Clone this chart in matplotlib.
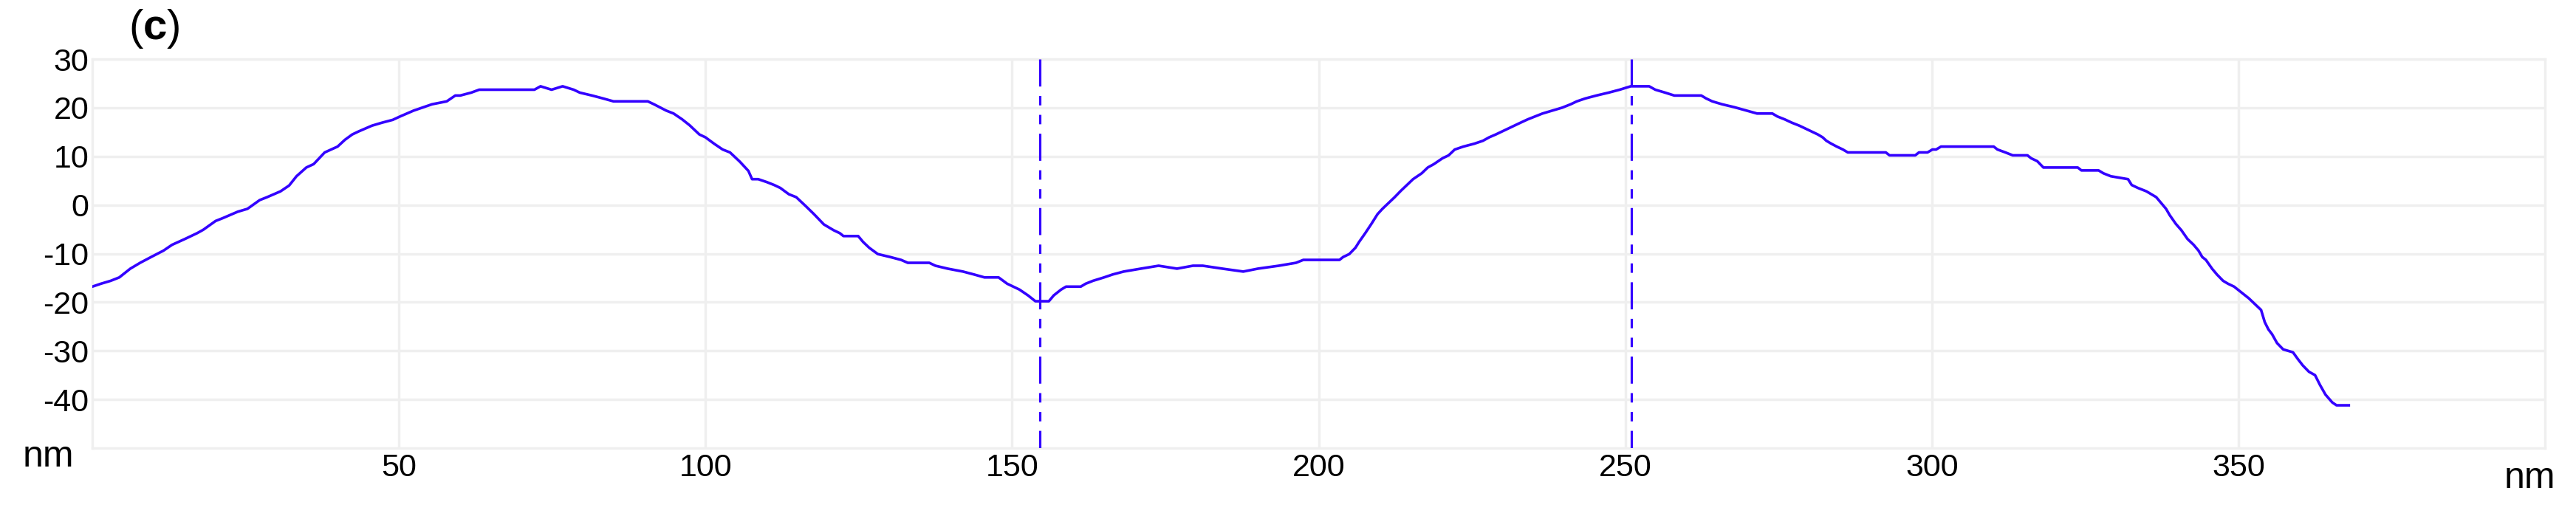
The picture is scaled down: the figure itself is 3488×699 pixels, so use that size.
import matplotlib.pyplot as plt


# profile distance (nm) and height (nm)
dist = [0, 1.4, 3.0, 4.4, 6.2, 7.8, 9.6, 11.6, 13.0, 15.1, 17.1, 18.1, 20.1, 21.3, 23.7, 25.3,
        27.3, 28.5, 30.7, 32.1, 33.3, 34.9, 36.1, 37.9, 40.0, 41.2, 42.4, 43.4, 45.6, 47.2, 49.0,
        50.2, 52.4, 55.4, 57.8, 59.2, 60.0, 61.8, 63.1, 72.1, 73.1, 74.9, 76.7, 78.5, 79.5, 81.5,
        83.3, 85.0, 90.6, 91.6, 93.6, 94.8, 96.2, 97.4, 99.0, 100.0, 101.4, 102.8, 104.0, 105.6,
        107.0, 107.6, 108.6, 110.0, 111.2, 112.2, 113.6, 114.8, 116.4, 117.7, 119.3, 120.9, 121.9,
        122.5, 124.9, 125.7, 126.7, 128.1, 130.1, 131.9, 133.0, 136.5, 137.5, 139.5, 142.0, 143.8,
        145.5, 147.8, 149.2, 151.2, 152.6, 153.8, 156.0, 156.8, 158.0, 158.8, 161.2, 162.0, 163.2,
        165.0, 166.4, 168.2, 171.0, 173.9, 176.9, 179.5, 181.1, 184.3, 187.7, 190.1, 193.5, 196.3,
        197.5, 203.4, 204.0, 205.0, 206.0, 206.6, 207.6, 208.6, 209.6, 210.4, 211.4, 212.4, 213.4,
        214.4, 215.4, 216.8, 217.8, 218.8, 220.2, 221.2, 222.2, 223.6, 225.4, 226.8, 227.8, 228.9,
        229.9, 230.9, 231.9, 232.9, 234.1, 235.3, 236.5, 238.1, 239.7, 241.1, 242.1, 243.5, 245.3,
        247.3, 249.1, 250.9, 253.9, 254.9, 256.5, 258.0, 262.4, 263.2, 264.2, 265.8, 267.8, 269.8,
        271.5, 274.0, 274.8, 276.0, 277.2, 278.4, 279.4, 280.4, 281.4, 282.2, 282.8, 283.6, 284.5,
        285.5, 286.3, 292.5, 293.1, 297.3, 297.9, 299.3, 300.1, 300.7, 301.5, 310.1, 310.7, 312.0,
        313.2, 315.6, 316.2, 317.2, 318.2, 323.8, 324.4, 327.2, 328.0, 329.2, 332.0, 332.6, 333.6,
        335.0, 335.8, 336.6, 337.4, 338.2, 338.8, 339.8, 340.7, 341.7, 342.7, 343.5, 344.1, 344.7,
        345.7, 346.5, 347.5, 348.3, 349.3, 350.5, 351.7, 352.7, 353.7, 354.3, 354.9, 355.5, 356.3,
        357.3, 358.9, 359.7, 360.5, 361.5, 362.5, 363.3, 364.2, 365.3, 366.0, 368.0]
height = [-16.8, -16.2, -15.6, -14.9, -13.1, -11.9, -10.7, -9.4, -8.2, -7.0, -5.8, -5.1, -3.3, -2.7,
          -1.4, -0.8, 1.0, 1.6, 2.8, 4.0, 5.9, 7.7, 8.4, 10.8, 12.0, 13.4, 14.5, 15.1, 16.3, 16.9,
          17.5, 18.2, 19.4, 20.7, 21.3, 22.5, 22.5, 23.1, 23.7, 23.7, 24.4, 23.7, 24.4, 23.7, 23.1,
          22.5, 21.9, 21.3, 21.3, 20.7, 19.4, 18.8, 17.6, 16.4, 14.5, 13.9, 12.6, 11.4, 10.8, 8.9,
          7.0, 5.3, 5.3, 4.7, 4.1, 3.5, 2.2, 1.6, -0.3, -1.9, -4.0, -5.2, -5.8, -6.4, -6.4, -7.6,
          -8.8, -10.1, -10.7, -11.3, -11.9, -11.9, -12.5, -13.1, -13.7, -14.3, -14.9, -14.9, -16.2,
          -17.4, -18.6, -19.8, -19.8, -18.6, -17.4, -16.8, -16.8, -16.2, -15.6, -14.9, -14.3, -13.7,
          -13.1, -12.5, -13.1, -12.5, -12.5, -13.1, -13.7, -13.1, -12.5, -11.9, -11.3, -11.3, -10.7,
          -10.1, -8.8, -7.6, -5.8, -3.9, -1.9, -0.8, 0.4, 1.6, 2.9, 4.1, 5.3, 6.5, 7.7, 8.4, 9.6,
          10.2, 11.4, 12.0, 12.6, 13.2, 13.9, 14.5, 15.1, 15.7, 16.3, 16.9, 17.6, 18.2, 18.8, 19.4,
          20.0, 20.7, 21.3, 21.9, 22.5, 23.1, 23.7, 24.4, 24.4, 23.7, 23.1, 22.5, 22.5, 21.9, 21.3,
          20.7, 20.1, 19.4, 18.8, 18.8, 18.2, 17.6, 16.9, 16.3, 15.7, 15.1, 14.5, 13.9, 13.2, 12.6,
          12.0, 11.4, 10.8, 10.8, 10.2, 10.2, 10.8, 10.8, 11.4, 11.4, 12.0, 12.0, 11.4, 10.8, 10.2,
          10.2, 9.6, 9.0, 7.7, 7.7, 7.1, 7.1, 6.5, 5.9, 5.3, 4.1, 3.5, 2.8, 2.2, 1.6, 0.4, -0.8,
          -2.1, -3.9, -5.2, -7.0, -8.2, -9.4, -10.7, -11.3, -13.1, -14.3, -15.6, -16.2, -16.8,
          -18.0, -19.2, -20.4, -21.6, -24.1, -25.6, -26.6, -28.4, -29.7, -30.3, -31.7, -33.0,
          -34.3, -35.0, -37.0, -39.0, -40.6, -41.2, -41.2]

cursors = [154.5, 251.0]
x_ticks = [50, 100, 150, 200, 250, 300, 350]
y_ticks = [-40, -30, -20, -10, 0, 10, 20, 30]

blue = '#3300ff'
grey = '#efefef'

plt.rcParams['font.family'] = ['Liberation Sans', 'DejaVu Sans']
plt.rcParams['axes.unicode_minus'] = False

fig = plt.figure(figsize=(34.88, 6.99), dpi=100)
ax = fig.add_axes([125 / 3488, 1 - 607 / 699, 3321 / 3488, 527 / 699])

ax.plot(dist, height, color=blue, lw=2.6, zorder=3)
for c in cursors:
    ax.plot([c, c], [30, -50], color=blue, lw=2.3, dashes=(11.5, 4, 4, 4, 4, 4), zorder=3)

ax.set_xlim(0, 400)
ax.set_ylim(-50, 30)
ax.set_xticks(x_ticks)
ax.set_yticks(y_ticks)
ax.grid(color=grey, lw=2.5)
ax.set_axisbelow(True)
for s in ax.spines.values():
    s.set_color(grey)
    s.set_linewidth(2.5)
ax.tick_params(length=0, labelsize=31)
ax.tick_params(axis='x', pad=5)
ax.tick_params(axis='y', pad=3.5)

fig.text(65.5 / 3488, 1 - 619 / 699, 'nm', fontsize=36, ha='center', va='center')
fig.text(3425 / 3488, 1 - 648 / 699, 'nm', fontsize=36, ha='center', va='center')

# panel label "(c)" with a bold c
base = 1 - 54 / 699
fig.text(174 / 3488, base, '(', fontsize=42, ha='left', va='baseline')
fig.text(194 / 3488, base, 'c', fontsize=42, fontweight='bold', ha='left', va='baseline')
fig.text(226 / 3488, base, ')', fontsize=42, ha='left', va='baseline')

plt.savefig('out.png', dpi=100)
